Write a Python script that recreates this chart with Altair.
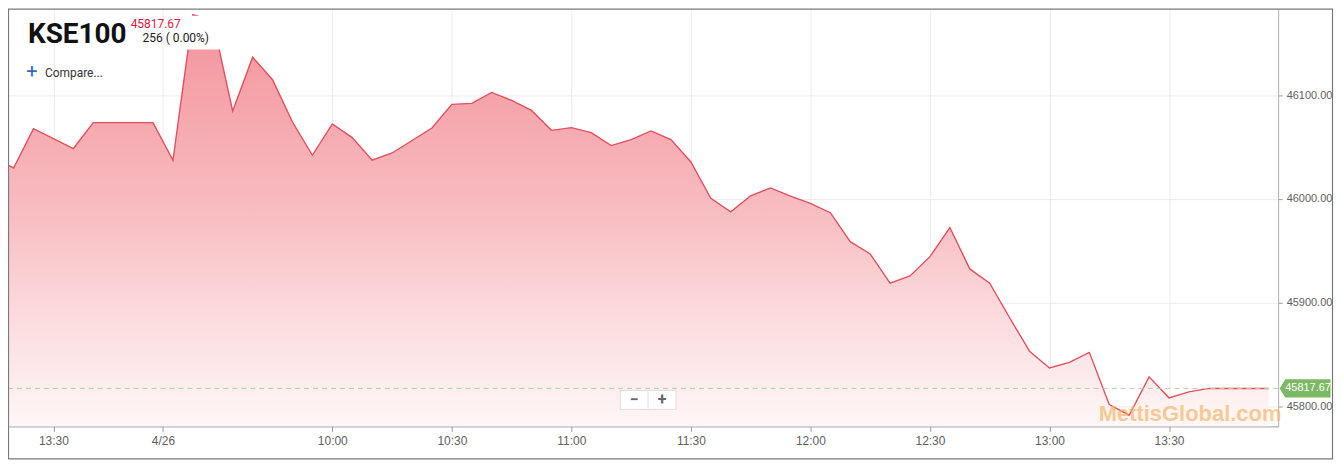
import altair as alt
import pandas as pd

# ---------------- data ----------------
days = ["4/25"] * 9 + ["4/26"] * 56
times = ["13:15", "13:20", "13:25", "13:30", "13:35", "13:40", "13:45", "13:50", "13:55",
         "09:20", "09:25", "09:30", "09:35", "09:40", "09:45", "09:50", "09:55",
         "10:00", "10:05", "10:10", "10:15", "10:20", "10:25", "10:30", "10:35",
         "10:40", "10:45", "10:50", "10:55", "11:00", "11:05", "11:10", "11:15",
         "11:20", "11:25", "11:30", "11:35", "11:40", "11:45", "11:50", "11:55",
         "12:00", "12:05", "12:10", "12:15", "12:20", "12:25", "12:30", "12:35",
         "12:40", "12:45", "12:50", "12:55", "13:00", "13:05", "13:10", "13:15",
         "13:20", "13:25", "13:30", "13:35", "13:40", "13:45", "13:50", "13:55"]
values = [46040.2, 46029.9, 46067.8, 46058.2, 46048.6, 46073.5, 46073.5, 46073.5, 46073.5,
          46037.3, 46177.4, 46171.7, 46084.6, 46136.5, 46114.8, 46074.1, 46042.1,
          46072.2, 46059.1, 46037.3, 46044.3, 46056.3, 46068.3, 46091.1, 46092.0,
          46102.6, 46094.9, 46085.3, 46066.1, 46068.7, 46063.9, 46051.4, 46057.2,
          46065.5, 46057.2, 46035.7, 46000.6, 45987.7, 46003.1, 46010.7, 46002.8,
          45995.8, 45986.8, 45958.9, 45947.1, 45919.0, 45926.0, 45944.5, 45972.4,
          45932.7, 45919.0, 45885.7, 45853.4, 45837.4, 45842.8, 45852.4, 45802.2,
          45791.9, 45828.8, 45808.6, 45814.4, 45817.67, 45817.67, 45817.67, 45817.67]

x_tick_labels = ["13:30", "4/26", "10:00", "10:30", "11:00", "11:30", "12:00", "12:30", "13:00", "13:30"]
y_ticks = [45800, 45900, 46000, 46100]
last_value = 45817.67
title_name = "KSE100"
title_price = "45817.67"
title_change = "256 ( 0.00%)"
watermark = "MettisGlobal.com"

# ---------------- build table (ordinal / gap-less trading axis) ----------------
df = pd.DataFrame({"day": days, "time": times, "value": values})
df["slot"] = range(len(df))


def slot_of(day, t):
    return int(df[(df.day == day) & (df.time == t)].slot.iloc[0])


tick_slots = [slot_of("4/25", "13:30"),
              (slot_of("4/25", "13:55") + slot_of("4/26", "09:20")) / 2]
for t in ["10:00", "10:30", "11:00", "11:30", "12:00", "12:30", "13:00", "13:30"]:
    tick_slots.append(slot_of("4/26", t))

label_expr = "''"
for v, lab in reversed(list(zip(tick_slots, x_tick_labels))):
    label_expr = f"datum.value == {v} ? '{lab}' : ({label_expr})"

W, H = 1274, 419
x_dom = [0.72, 64.48]
y_dom = [45781.1, 46183.2]

x_enc = alt.X("slot:Q", scale=alt.Scale(domain=x_dom, nice=False, zero=False),
              axis=alt.Axis(values=tick_slots, labelExpr=label_expr, title=None, grid=True,
                            gridColor="#ececec", domainColor="#9a9a9a", tickColor="#9a9a9a",
                            tickSize=5, labelColor="#606060", labelFont="Liberation Sans",
                            labelFontSize=12, labelPadding=4, labelFlush=False))
y_enc = alt.Y("value:Q", scale=alt.Scale(domain=y_dom, nice=False, zero=False),
              axis=alt.Axis(orient="right", values=y_ticks, format=".2f", title=None, grid=True,
                            gridColor="#ececec", domainColor="#b0b0b0", tickColor="#9a9a9a",
                            tickSize=4, labelColor="#606060", labelFont="Liberation Sans",
                            labelFontSize=11, labelPadding=4))

base = alt.Chart(df)

area = base.mark_area(
    clip=True,
    color=alt.Gradient(gradient="linear", x1=1, x2=1, y1=0, y2=1,
                       stops=[alt.GradientStop(color="#f3939b", offset=0),
                              alt.GradientStop(color="#f5a8ae", offset=0.25),
                              alt.GradientStop(color="#f8bfc3", offset=0.5),
                              alt.GradientStop(color="#fbdde0", offset=0.75),
                              alt.GradientStop(color="#fef7f7", offset=1)]),
).encode(x=x_enc, y=y_enc, y2=alt.datum(y_dom[0]))

line = base.mark_line(clip=True, color="#e34f5c", strokeWidth=1.4).encode(
    x="slot:Q", y="value:Q")

one = pd.DataFrame({"k": [0]})

last_rule = alt.Chart(one).mark_rule(color="#b4cfa4", strokeDash=[5, 4], strokeWidth=1).encode(
    y=alt.datum(last_value), x=alt.value(0), x2=alt.value(W))

# white label box over the top of the chart (as in the reference)
label_box = alt.Chart(one).mark_rect(color="white").encode(
    x=alt.value(162), x2=alt.value(218), y=alt.value(7), y2=alt.value(41))


def txt(s, x, y, size, color, font="Roboto", weight="normal", align="left", baseline="alphabetic", opacity=1):
    return alt.Chart(pd.DataFrame({"s": [s]})).mark_text(
        align=align, baseline=baseline, font=font, fontSize=size, fontWeight=weight,
        color=color, opacity=opacity).encode(x=alt.value(x), y=alt.value(y), text="s:N")


t_name = txt(title_name, 20, 34, 28, "#111111", font="Roboto", weight="bold")
t_price = txt(title_price, 123, 19, 12, "#e2183f")
t_change = txt(title_change, 135, 33, 12, "#1a1a1a")
t_plus = txt("+", 24, 70, 20, "#2d6cc0", align="center")
t_compare = txt("Compare...", 37, 69, 12, "#333333")
t_mark = txt(watermark, 1094, 414, 22, "#f3b461", font="Liberation Sans", weight="bold", opacity=0.65)

# last value tag
tag = alt.Chart(one).mark_point(
    shape="M -1 0 L -0.78 -0.36 L 1 -0.36 L 1 0.36 L -0.78 0.36 Z",
    filled=True, color="#7cb962", opacity=1, size=2600).encode(
    x=alt.value(1301), y=alt.datum(last_value))
tag_text = alt.Chart(pd.DataFrame({"s": [f"{last_value:.2f}"]})).mark_text(
    align="center", baseline="middle", color="white", font="Liberation Sans", fontSize=11).encode(
    x=alt.value(1304), y=alt.datum(last_value), text="s:N")

# zoom buttons
zoom_box = alt.Chart(one).mark_rect(fill="white", stroke="#dddddd", strokeWidth=1, opacity=0.95).encode(
    x=alt.value(614), x2=alt.value(670), y=alt.value(383), y2=alt.value(402))
zoom_sep = alt.Chart(one).mark_rule(color="#e2e2e2").encode(
    x=alt.value(642), y=alt.value(384), y2=alt.value(401))
z_minus = txt("\u2212", 628, 393, 16, "#666666", weight="bold", align="center", baseline="middle")
z_plus = txt("+", 656, 393, 16, "#666666", weight="bold", align="center", baseline="middle")

frame = alt.Chart(one).mark_rect(fill=None, stroke="#7a7a7a", strokeWidth=1.2).encode(
    x=alt.value(0.5), x2=alt.value(1328.5), y=alt.value(0.5), y2=alt.value(451.5))

chart = alt.layer(
    area, line, last_rule, label_box, t_mark, zoom_box, zoom_sep, z_minus, z_plus,
    tag, tag_text, t_name, t_price, t_change, t_plus, t_compare, frame
).properties(
    width=W, height=H,
    autosize=alt.AutoSizeParams(type="none"),
    padding={"left": 0, "top": 0, "right": 56, "bottom": 34},
    background="white",
).configure_view(stroke=None)

chart.save("out.html", embed_options={"renderer": "svg", "actions": False})
